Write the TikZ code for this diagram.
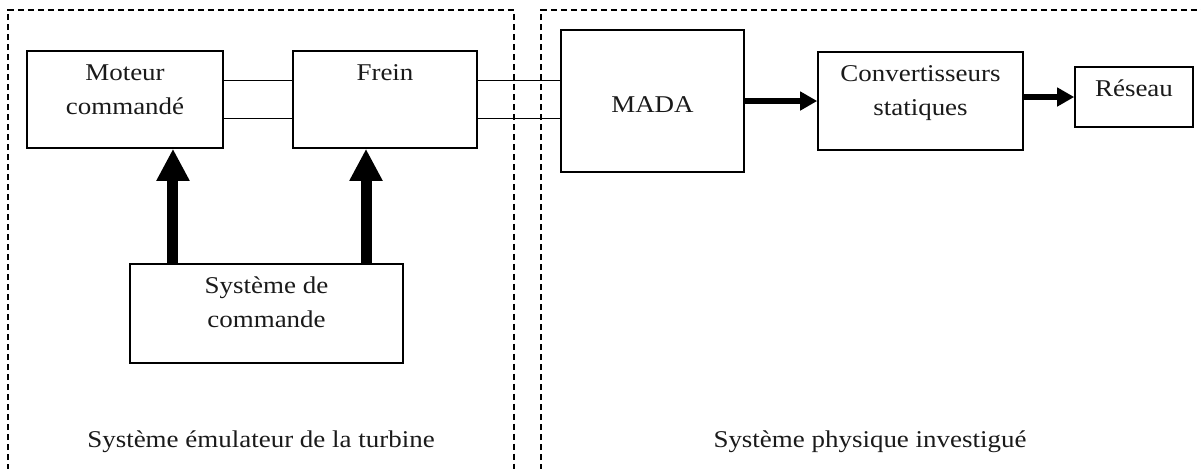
\documentclass[tikz,border=0pt]{standalone}
\usepackage{fontspec}
\setmainfont[FakeStretch=1.12]{Liberation Serif}
\usetikzlibrary{arrows.meta, positioning}

\begin{document}
\begin{tikzpicture}[x=0.02cm, y=-0.02cm,
    block/.style={draw=borderColour, line width=0.9pt, inner sep=0pt},
    txt/.style={anchor=north, inner sep=0pt, align=center, text=textColour,
        font=\fontsize{13.7}{19.4}\selectfont},
    frame/.style={draw=borderColour, line width=0.6pt, dash pattern=on 0.12cm off 0.08cm},
    shaft/.style={draw=borderColour, line width=0.9pt},
    bigarrow/.style={line width=0.22cm, -{Triangle[width=0.62cm, length=0.64cm]}},
    smallarrow/.style={line width=0.13cm, -{Triangle[width=0.36cm, length=0.34cm]}}]

    \definecolor{borderColour}{HTML}{000000}
    \definecolor{textColour}{HTML}{1A1A1A}

    % Fix the size of the picture
    \useasboundingbox (0,0) rectangle (1201,468);
    \clip (0,0) rectangle (1201,468);

    % Draw the two dashed frames
    \draw[frame] (8,490) -- (8,10) -- (514,10) -- (514,490);
    \draw[frame] (541,490) -- (541,10) -- (1230,10);

    % Draw the blocks
    \node[block, minimum width=3.92cm, minimum height=1.94cm] (moteur) at (125,99.5) {};
    \node[block, minimum width=3.68cm, minimum height=1.94cm] (frein) at (385,99.5) {};
    \node[block, minimum width=3.66cm, minimum height=2.84cm] (mada) at (652.5,101) {};
    \node[block, minimum width=4.10cm, minimum height=1.96cm] (conv) at (920.5,101) {};
    \node[block, minimum width=2.36cm, minimum height=1.20cm] (reseau) at (1134,97) {};
    \node[block, minimum width=5.46cm, minimum height=1.98cm] (cmd) at (266.5,313.5) {};

    % Texts of the blocks
    \node[txt] (moteurtxt) at ([yshift=-0.28cm]moteur.north) {Moteur\\commandé};
    \node[txt] (freintxt) at ([yshift=-0.28cm]frein.north) {Frein};
    \node[txt] (madatxt) at ([yshift=-1.34cm]mada.north) {MADA};
    \node[txt] (convtxt) at ([yshift=-0.28cm]conv.north) {Convertisseurs\\statiques};
    \node[txt] (reseautxt) at ([yshift=-0.26cm]reseau.north) {Réseau};
    \node[txt] (cmdtxt) at ([yshift=-0.26cm]cmd.north) {Système de\\commande};

    % Shafts between the machines
    \foreach \s in {0.38,-0.38} {
        \draw[shaft] ([yshift=\s cm]moteur.east) -- ([yshift=\s cm]moteur.east -| frein.west);
        \draw[shaft] ([yshift=\s cm]frein.east) -- ([yshift=\s cm]frein.east -| mada.west);
    }

    % Control arrows
    \draw[bigarrow] ([xshift=0.96cm]moteur.south |- cmd.north) -- ([xshift=0.96cm]moteur.south);
    \draw[bigarrow] ([xshift=-0.38cm]frein.south |- cmd.north) -- ([xshift=-0.38cm]frein.south);

    % Power arrows
    \draw[smallarrow] (mada.east) -- (conv.west);
    \draw[smallarrow] (conv.east |- reseau.west) -- (reseau.west);

    % Frame labels
    \node[txt, anchor=base] (emul) at (261,447) {Système émulateur de la turbine};
    \node[txt, anchor=base] (phys) at (870,447) {Système physique investigué};

\end{tikzpicture}
\end{document}
